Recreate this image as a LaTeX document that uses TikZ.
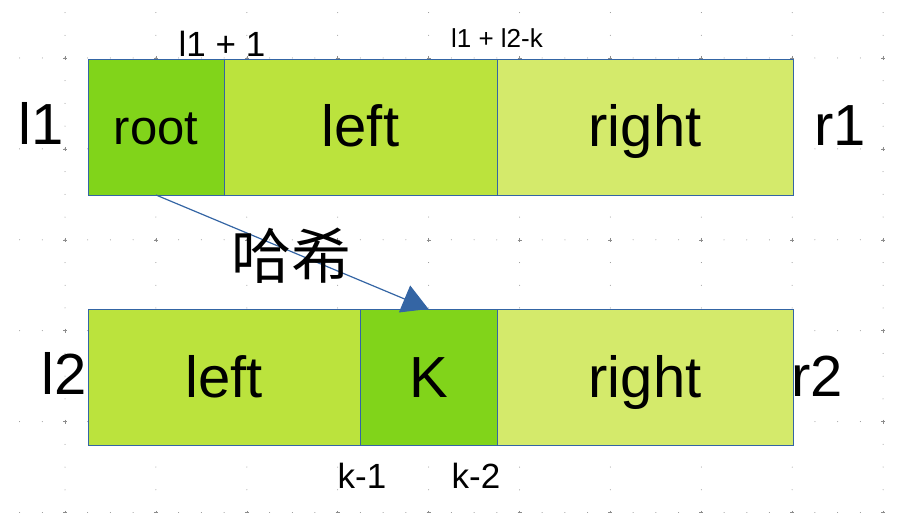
\documentclass[tikz,border=0pt]{standalone}
\usepackage{fontspec}
\setmainfont{Liberation Sans}
\newfontfamily\cjk{Noto Sans CJK SC}
\usetikzlibrary{positioning,arrows.meta}

\definecolor{limedark}{HTML}{81D41A}
\definecolor{limemid}{HTML}{BBE33D}
\definecolor{limelight}{HTML}{D4EA6B}
\definecolor{edgeblue}{HTML}{3465A4}
\definecolor{gridgray}{HTML}{8C8C8C}

\tikzset{
  cell/.style={draw=edgeblue, line width=0.8pt, inner sep=0pt, outer sep=0pt,
    minimum height=136pt, text height=40pt, text depth=0pt,
    font=\fontsize{58}{60}\selectfont},
  bound/.style={anchor=base, font=\fontsize{58}{60}\selectfont},
  idx/.style={anchor=base, font=\fontsize{35}{40}\selectfont}
}

\begin{document}
\begin{tikzpicture}[x=1pt, y=-1pt]
    \useasboundingbox (0,0) rectangle (905,513);

    % grid of the drawing page
    \foreach \i in {0,...,9}
        \foreach \k in {-2,...,20}
            \fill[gridgray] (65+90.9*\i, 58+22.725*\k) circle (0.5);
    \foreach \j in {0,...,5}
        \foreach \k in {-2,...,37}
            \fill[gridgray] (65+22.725*\k, 58+90.9*\j) circle (0.5);
    \foreach \i in {0,...,9}
        \foreach \j in {0,...,5}
            \draw[gridgray, line width=0.5pt] (63+90.9*\i, 58+90.9*\j) -- (67+90.9*\i, 58+90.9*\j)
                (65+90.9*\i, 56+90.9*\j) -- (65+90.9*\i, 60+90.9*\j);

    % first sequence
    \node[cell, fill=limedark, minimum width=136pt, text height=36pt, font=\fontsize{49}{52}\selectfont, anchor=north west] (root) at (88,59) {root};
    \node[cell, fill=limemid, minimum width=273pt, right=0pt of root] (left1) {left};
    \node[cell, fill=limelight, minimum width=296pt, right=0pt of left1] (right1) {right};

    \node[bound] (l1) at (41,145) {l1};
    \node[bound] (r1) at (840,146) {r1};
    \node[anchor=base, font=\fontsize{35}{40}\selectfont] (lsplit) at (222,57) {l1 + 1};
    \node[anchor=base, font=\fontsize{26}{30}\selectfont] (rsplit) at (497,48) {l1 + l2-k};

    % second sequence
    \node[cell, fill=limemid, minimum width=272pt, anchor=north west] (left2) at (88,309) {left};
    \node[cell, fill=limedark, minimum width=137pt, right=0pt of left2] (k) {K};
    \node[cell, fill=limelight, minimum width=296pt, right=0pt of k] (right2) {right};

    \node[bound] (l2) at (64,394) {l2};
    \node[bound] (r2) at (817,396) {r2};
    \node[idx] (kminus1) at (362,488) {k-1};
    \node[idx] (kminus2) at (476,488) {k-2};

    % lookup
    \draw[edgeblue, line width=1.2pt, -{Triangle[length=26pt, width=29pt]}] (root.south) -- (k.north);
    \node[anchor=base, font=\cjk\fontsize{60}{64}\selectfont] (hash) at (291,278) {哈希};
\end{tikzpicture}
\end{document}
